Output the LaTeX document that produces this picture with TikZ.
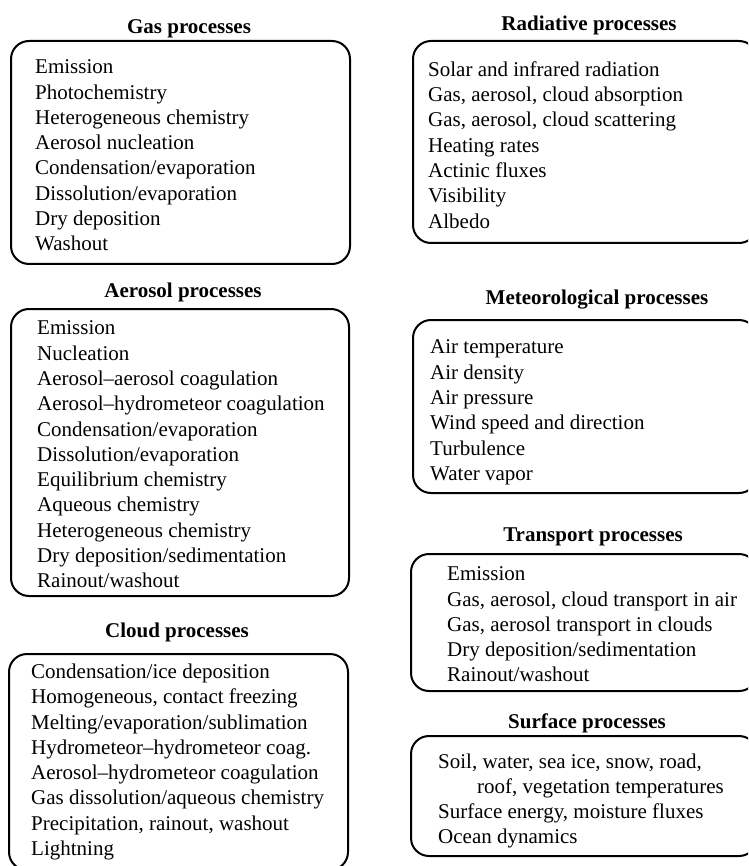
\documentclass[tikz,border=0pt]{standalone}
\usepackage{fontspec}
\setmainfont{Liberation Serif}
\usetikzlibrary{positioning}

\begin{document}
\begin{tikzpicture}[x=1pt, y=-1pt,
    every node/.style={font=\fontsize{21}{25.3}\selectfont, inner sep=0pt},
    procbox/.style={draw, line width=2pt, rounded corners=18pt, anchor=north west},
    proctitle/.style={font=\fontsize{21}{25.3}\selectfont\bfseries, anchor=base},
    proclist/.style={align=left}]
  \useasboundingbox (0,0) rectangle (748,866);
  \clip (0,0) rectangle (748,866);

  % left column
  \node[proctitle] (gastitle) at (189,34) {Gas processes};
  \node[procbox, minimum width=339pt, minimum height=223pt] (gas) at (10,40) {};
  \node[proclist, right=25pt of gas.west, yshift=-3pt] (gaslist) {Emission\\ Photochemistry\\
    Heterogeneous chemistry\\ Aerosol nucleation\\ Condensation/evaporation\\
    Dissolution/evaporation\\ Dry deposition\\ Washout};

  \node[proctitle] (aertitle) at (183,298) {Aerosol processes};
  \node[procbox, minimum width=338pt, minimum height=287pt] (aer) at (10,308) {};
  \node[proclist, right=27pt of aer.west, yshift=-2pt] (aerlist) {Emission\\ Nucleation\\
    Aerosol--aerosol coagulation\\ Aerosol--hydrometeor coagulation\\
    Condensation/evaporation\\ Dissolution/evaporation\\ Equilibrium chemistry\\
    Aqueous chemistry\\ Heterogeneous chemistry\\ Dry deposition/sedimentation\\
    Rainout/washout};

  \node[proctitle] (cldtitle) at (177,637) {Cloud processes};
  \node[procbox, minimum width=339pt, minimum height=216pt] (cld) at (8,653) {};
  \node[proclist, right=23pt of cld.west] (cldlist) {Condensation/ice deposition\\
    Homogeneous, contact freezing\\ Melting/evaporation/sublimation\\
    Hydrometeor--hydrometeor coag.\\ Aerosol--hydrometeor coagulation\\
    Gas dissolution/aqueous chemistry\\ Precipitation, rainout, washout\\ Lightning};

  % right column
  \node[proctitle] (radtitle) at (589,31) {Radiative processes};
  \node[procbox, minimum width=344pt, minimum height=202pt] (rad) at (412,40) {};
  \node[proclist, right=16pt of rad.west, yshift=-3pt] (radlist) {Solar and infrared radiation\\
    Gas, aerosol, cloud absorption\\ Gas, aerosol, cloud scattering\\
    Heating rates\\ Actinic fluxes\\ Visibility\\ Albedo};

  \node[proctitle] (mettitle) at (597,304) {Meteorological processes};
  \node[procbox, minimum width=344pt, minimum height=173pt] (met) at (412,319) {};
  \node[proclist, right=18pt of met.west, yshift=-6pt] (metlist) {Air temperature\\ Air density\\
    Air pressure\\ Wind speed and direction\\ Turbulence\\ Water vapor};

  \node[proctitle] (trntitle) at (593,541) {Transport processes};
  \node[procbox, minimum width=346pt, minimum height=137pt] (trn) at (410,553) {};
  \node[proclist, right=37pt of trn.west, yshift=-2pt] (trnlist) {Emission\\
    Gas, aerosol, cloud transport in air\\ Gas, aerosol transport in clouds\\
    Dry deposition/sedimentation\\ Rainout/washout};

  \node[proctitle] (sfctitle) at (587,728) {Surface processes};
  \node[procbox, minimum width=346pt, minimum height=120pt] (sfc) at (410,735) {};
  \node[proclist, right=28pt of sfc.west, yshift=-5pt] (sfclist) {Soil, water, sea ice, snow, road,\\
    \hspace*{39pt}roof, vegetation temperatures\\ Surface energy, moisture fluxes\\
    Ocean dynamics};
\end{tikzpicture}
\end{document}
